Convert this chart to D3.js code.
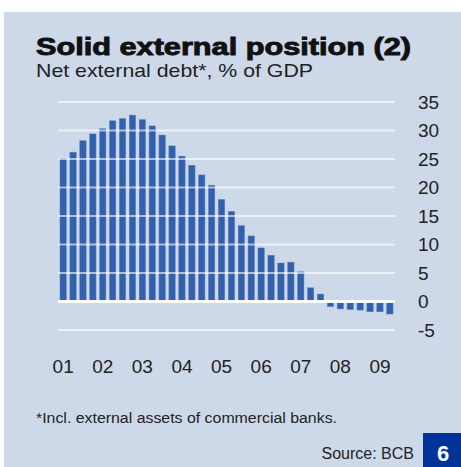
<!DOCTYPE html>
<html><head><meta charset="utf-8">
<script src="https://cdn.jsdelivr.net/npm/d3@7/dist/d3.min.js"></script>
<style>body{margin:0;background:#fff;}svg{display:block;font-family:"Liberation Sans",Arial,sans-serif;}</style>
</head><body>
<script>
const quarters = [];
const years = ["01","02","03","04","05","06","07","08","09"];
years.forEach(y => [1,2,3,4].forEach(q => quarters.push(y + "Q" + q)));
const categories = quarters.slice(0, 34);
const values = [25.1,26.2,28.2,29.4,30.3,31.7,32.1,32.7,31.9,30.8,29.2,27.3,25.5,23.9,22.2,20.4,
  17.9,15.8,13.3,11.5,9.4,8.1,6.75,6.9,5.2,2.4,1.3,-0.9,-1.3,-1.4,-1.5,-1.8,-1.8,-2.2];
const yTicks = [-5,0,5,10,15,20,25,30,35];
const xLabels = years;

const W = 461, H = 467;
const svg = d3.select("body").append("svg").attr("width", W).attr("height", H);
svg.append("rect").attr("x", 4).attr("y", 12).attr("width", W - 4).attr("height", H - 12).attr("fill", "#cdd8e9");

svg.append("text").attr("x", 36).attr("y", 55).attr("font-size", 23.5).attr("font-weight", 900)
  .attr("textLength", 375).attr("lengthAdjust", "spacingAndGlyphs")
  .attr("fill", "#111").attr("stroke", "#111").attr("stroke-width", 0.9).text("Solid external position (2)");
svg.append("text").attr("x", 36).attr("y", 77).attr("font-size", 19)
  .attr("textLength", 277).attr("lengthAdjust", "spacingAndGlyphs")
  .attr("fill", "#222").text("Net external debt*, % of GDP");

const x = d3.scaleBand().domain(categories).range([58.2, 394.8]).paddingInner(0.36).paddingOuter(0.18);
const y = d3.scaleLinear().domain([-5, 35]).range([330, 102]);

svg.append("g").selectAll("rect").data(values).join("rect")
  .attr("x", (d, i) => x(categories[i]))
  .attr("width", x.bandwidth())
  .attr("y", d => y(Math.max(0, d)))
  .attr("height", d => Math.abs(y(d) - y(0)))
  .attr("fill", "#3260ad").attr("stroke", "#5a80c0").attr("stroke-width", 0.5);

svg.append("g").selectAll("line").data(yTicks).join("line")
  .attr("x1", 58).attr("x2", 395).attr("y1", d => y(d)).attr("y2", d => y(d))
  .attr("stroke", "#fff").attr("stroke-opacity", d => d === 0 ? 1 : 0.6).attr("stroke-width", d => d === 0 ? 3 : 2);

svg.append("g").selectAll("text").data(yTicks).join("text")
  .attr("x", 418).attr("y", d => y(d)).attr("dy", "0.36em").attr("font-size", 19).attr("fill", "#222").text(d => d);

svg.append("g").selectAll("text").data(xLabels).join("text")
  .attr("x", d => x(d + "Q1") + x.bandwidth() / 2).attr("y", 373).attr("text-anchor", "middle")
  .attr("font-size", 19).attr("fill", "#222").text(d => d);

svg.append("text").attr("x", 36).attr("y", 423).attr("font-size", 15.5)
  .attr("textLength", 301).attr("lengthAdjust", "spacingAndGlyphs")
  .attr("fill", "#222").text("*Incl. external assets of commercial banks.");
svg.append("text").attr("x", 414).attr("y", 459).attr("text-anchor", "end").attr("font-size", 16).attr("fill", "#222").text("Source: BCB");
svg.append("rect").attr("x", 423).attr("y", 433).attr("width", 38).attr("height", 34).attr("fill", "#003399");
svg.append("text").attr("x", 443).attr("y", 461).attr("text-anchor", "middle").attr("font-size", 22).attr("font-weight", "bold").attr("fill", "#fff").text("6");
</script>
</body></html>
